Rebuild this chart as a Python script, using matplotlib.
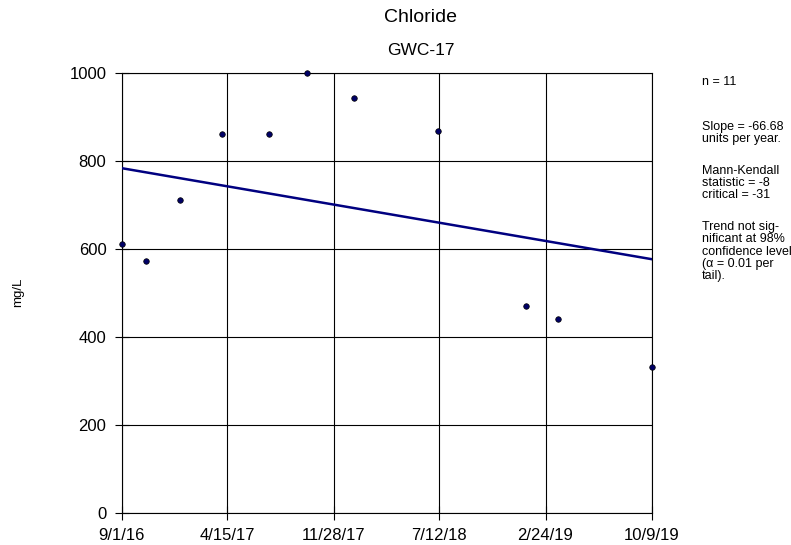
from datetime import datetime

import matplotlib
matplotlib.use('Agg')
from matplotlib import pyplot as plt

plt.rcParams['font.family'] = ['Liberation Sans', 'DejaVu Sans']

# sample dates and chloride values (mg/L)
dates = ['2016-09-01', '2016-10-23', '2017-01-04', '2017-04-04', '2017-07-12',
         '2017-10-02', '2018-01-10', '2018-07-09', '2019-01-14', '2019-03-22',
         '2019-10-09']
values = [610, 571, 711, 861, 861, 1000, 942, 867, 470, 440, 332]

# trend line: value at first sample and slope per year
trend_start = 783
trend_slope = -66.68

tick_dates = ['2016-09-01', '2017-04-15', '2017-11-28', '2018-07-12',
              '2019-02-24', '2019-10-09']
tick_labels = ['9/1/16', '4/15/17', '11/28/17', '7/12/18', '2/24/19', '10/9/19']
y_ticks = [0, 200, 400, 600, 800, 1000]

notes = [
    'n = 11',
    'Slope = -66.68\nunits per year.',
    'Mann-Kendall\nstatistic = -8\ncritical = -31',
    'Trend not sig-\nnificant at 98%\nconfidence level\n(\u03b1 = 0.01 per\ntail).',
]

x = [datetime.strptime(d, '%Y-%m-%d') for d in dates]
xt = [datetime.strptime(d, '%Y-%m-%d') for d in tick_dates]

fig = plt.figure(figsize=(7.91, 5.45), dpi=100)
ax = fig.add_axes([0.1539, 0.0593, 0.6700, 0.8073])

# trend line across the full sampling period
t0, t1 = x[0], x[-1]
years = (t1 - t0).days / 365.25
ax.plot([t0, t1], [trend_start, trend_start + trend_slope * years],
        color='#000080', lw=1.8, zorder=3)

ax.scatter(x, values, s=16, color='#000066', edgecolors='black',
           linewidths=0.5, zorder=4, clip_on=False)

ax.set_xlim(xt[0], xt[-1])
ax.set_ylim(0, 1000)
ax.set_xticks(xt)
ax.set_xticklabels(tick_labels)
ax.set_yticks(y_ticks)
ax.grid(True, color='black', lw=0.8)
ax.set_axisbelow(True)
for s in ax.spines.values():
    s.set_color('black')
    s.set_linewidth(0.8)
ax.tick_params(axis='both', direction='inout', length=10, width=0.8,
               labelsize=12, pad=6)

fig.text(18.5 / 791, 1 - 292.7 / 545, 'mg/L', fontsize=9.5, rotation=90,
         ha='center', va='center')

fig.text(0.532, 0.967, 'Chloride', fontsize=14, ha='center', va='center')
fig.text(0.532, 0.908, 'GWC-17', fontsize=12.5, ha='center', va='center')

note_y = [81.7, 127.3, 170.7, 227.3]
for txt, yy in zip(notes, note_y):
    fig.text(702 / 791, 1 - (yy - 6) / 545, txt, fontsize=9,
             ha='left', va='top', linespacing=1.02)

fig.savefig('out.png', dpi=100)
